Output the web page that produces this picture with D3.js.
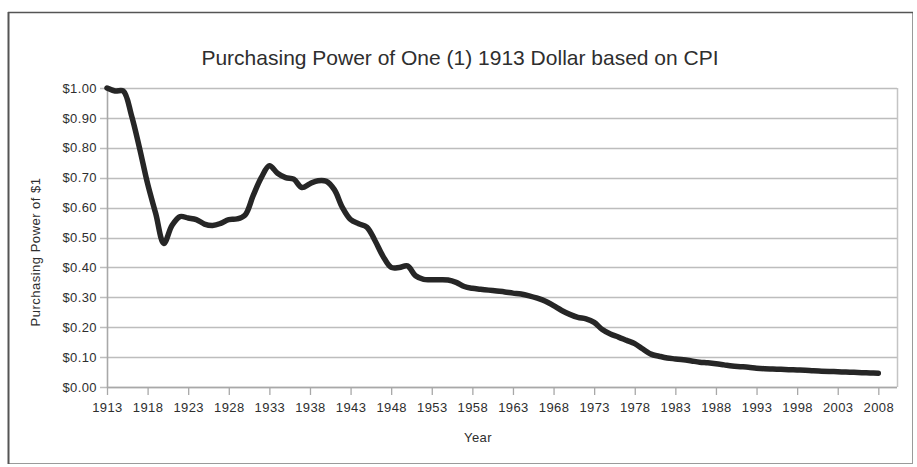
<!DOCTYPE html>
<html>
<head>
<meta charset="utf-8">
<script src="https://cdn.jsdelivr.net/npm/d3@7"></script>
<style>
  html, body { margin: 0; padding: 0; background: #fff; }
  svg { display: block; font-family: "Liberation Sans", Arial, sans-serif; }
</style>
</head>
<body>
<svg id="chart" width="917" height="467"></svg>
<script>
const title = "Purchasing Power of One (1) 1913 Dollar based on CPI";
const yAxisTitle = "Purchasing Power of $1";
const xAxisTitle = "Year";

const years = [1913,1914,1915,1916,1917,1918,1919,1920,1921,1922,1923,1924,1925,1926,1927,1928,1929,1930,
  1931,1932,1933,1934,1935,1936,1937,1938,1939,1940,1941,1942,1943,1944,1945,1946,1947,1948,1949,1950,
  1951,1952,1953,1954,1955,1956,1957,1958,1959,1960,1961,1962,1963,1964,1965,1966,1967,1968,1969,1970,
  1971,1972,1973,1974,1975,1976,1977,1978,1979,1980,1981,1982,1983,1984,1985,1986,1987,1988,1989,1990,
  1991,1992,1993,1994,1995,1996,1997,1998,1999,2000,2001,2002,2003,2004,2005,2006,2007,2008];

const power = [1.00,0.99,0.99,0.91,0.80,0.68,0.58,0.48,0.54,0.57,0.565,0.56,0.545,0.54,0.547,0.56,0.562,0.575,
  0.64,0.70,0.74,0.715,0.70,0.695,0.667,0.68,0.69,0.688,0.66,0.60,0.56,0.546,0.535,0.49,0.437,0.40,0.40,0.405,
  0.372,0.36,0.359,0.359,0.358,0.35,0.336,0.33,0.327,0.324,0.321,0.318,0.314,0.311,0.305,0.297,0.287,0.272,0.256,0.243,
  0.233,0.228,0.216,0.192,0.177,0.167,0.156,0.145,0.127,0.11,0.103,0.097,0.094,0.091,0.087,0.083,0.081,0.078,0.074,0.07,
  0.068,0.066,0.063,0.061,0.06,0.059,0.058,0.057,0.056,0.054,0.053,0.052,0.051,0.05,0.049,0.048,0.047,0.046];

const xTickYears = [1913,1918,1923,1928,1933,1938,1943,1948,1953,1958,1963,1968,1973,1978,1983,1988,1993,1998,2003,2008];
const yTickValues = [0,0.1,0.2,0.3,0.4,0.5,0.6,0.7,0.8,0.9,1.0];
const yTickLabels = ["$0.00","$0.10","$0.20","$0.30","$0.40","$0.50","$0.60","$0.70","$0.80","$0.90","$1.00"];
const xDomain = [1913, 2010.3];

const svg = d3.select("#chart");
const plot = { left: 107, right: 897, top: 88, bottom: 387 };

// outer frame
svg.append("rect").attr("x", 8.5).attr("y", 12.5).attr("width", 904).attr("height", 451)
  .attr("fill", "#fff").attr("stroke", "#9a9a9a").attr("stroke-width", 1);
svg.append("line").attr("x1", 8.5).attr("x2", 8.5).attr("y1", 12).attr("y2", 464)
  .attr("stroke", "#555").attr("stroke-width", 2);
svg.append("line").attr("x1", 8).attr("x2", 913).attr("y1", 12.5).attr("y2", 12.5)
  .attr("stroke", "#555").attr("stroke-width", 1.5);

const x = d3.scaleLinear().domain(xDomain).range([plot.left, plot.right]);
const y = d3.scaleLinear().domain([0, 1]).range([plot.bottom, plot.top]);

// gridlines
svg.append("g").selectAll("line").data(yTickValues).join("line")
  .attr("x1", plot.left - 7).attr("x2", plot.right)
  .attr("y1", d => Math.round(y(d)) + 0.5).attr("y2", d => Math.round(y(d)) + 0.5)
  .attr("stroke", "#bdbdbd").attr("stroke-width", 1.6);

// right frame of plot area
svg.append("line").attr("x1", plot.right + 0.5).attr("x2", plot.right + 0.5)
  .attr("y1", plot.top).attr("y2", plot.bottom)
  .attr("stroke", "#c4c4c4").attr("stroke-width", 1.5);

// y axis
const yAxis = d3.axisLeft(y).tickValues(yTickValues)
  .tickFormat((d, i) => yTickLabels[i]).tickSize(0).tickPadding(10);
const gy = svg.append("g").attr("transform", `translate(${plot.left},0)`).call(yAxis);
gy.select(".domain").remove();
gy.selectAll("text").attr("font-size", 13).attr("fill", "#2e2e2e")
  .attr("font-family", "'Liberation Sans', Arial, sans-serif").style("letter-spacing", "0.4px");

svg.append("line").attr("x1", plot.left + 0.5).attr("x2", plot.left + 0.5)
  .attr("y1", plot.top).attr("y2", plot.bottom + 1).attr("stroke", "#a8a8a8").attr("stroke-width", 1.6);

// x axis
const xAxis = d3.axisBottom(x).tickValues(xTickYears).tickFormat(d3.format("d"))
  .tickSize(8).tickPadding(8);
const gx = svg.append("g").attr("transform", `translate(0,${plot.bottom})`).call(xAxis);
gx.select(".domain").attr("d", `M${plot.left},0.5H${plot.right}`).attr("stroke", "#a8a8a8").attr("stroke-width", 1.6);
gx.selectAll(".tick line").attr("stroke", "#a8a8a8").attr("stroke-width", 1.3);
gx.selectAll("text").attr("font-size", 13).attr("fill", "#2e2e2e")
  .attr("font-family", "'Liberation Sans', Arial, sans-serif").style("letter-spacing", "0.4px");

// line
const line = d3.line().x((d, i) => x(years[i])).y(d => y(d)).curve(d3.curveCatmullRom.alpha(0.5));
svg.append("path").datum(power).attr("d", line)
  .attr("fill", "none").attr("stroke", "#262626").attr("stroke-width", 5.5)
  .attr("stroke-linejoin", "round").attr("stroke-linecap", "round");

// titles
svg.append("text").attr("x", 460).attr("y", 65).attr("text-anchor", "middle")
  .attr("font-size", 21).attr("fill", "#2e2e2e").text(title);

svg.append("text").attr("transform", "translate(40,252) rotate(-90)").attr("text-anchor", "middle")
  .attr("font-size", 13).attr("fill", "#2e2e2e").style("letter-spacing", "0.5px").text(yAxisTitle);

svg.append("text").attr("x", 478).attr("y", 442).attr("text-anchor", "middle")
  .attr("font-size", 13).attr("fill", "#2e2e2e").style("letter-spacing", "0.4px").text(xAxisTitle);
</script>
</body>
</html>
